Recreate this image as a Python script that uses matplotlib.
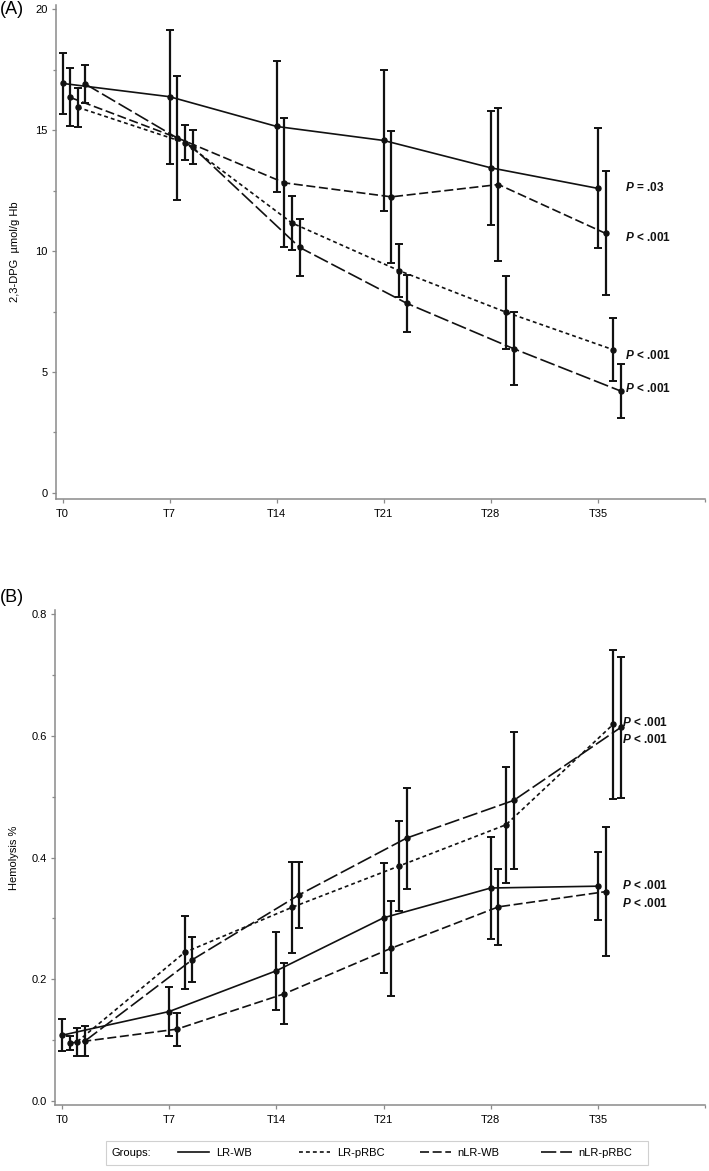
import matplotlib
matplotlib.use("Agg")
import matplotlib.pyplot as plt
from matplotlib.lines import Line2D
from matplotlib.patches import Rectangle
from matplotlib.ticker import FixedLocator, MultipleLocator

plt.rcParams['font.family'] = ['Liberation Sans', 'DejaVu Sans']
plt.rcParams['mathtext.fontset'] = 'custom'
plt.rcParams['mathtext.it'] = 'Liberation Sans:italic:bold'
plt.rcParams['mathtext.rm'] = 'Liberation Sans:bold'
plt.rcParams['lines.scale_dashes'] = False

# storage time points (days) and tick labels
days = [0, 7, 14, 21, 28, 35]
day_labels = ['T0', 'T7', 'T14', 'T21', 'T28', 'T35']
groups = ['LR-WB', 'LR-pRBC', 'nLR-WB', 'nLR-pRBC']

# (A) 2,3-DPG, mean and SD
dpg_lr_wb = [16.93, 16.38, 15.15, 14.57, 13.44, 12.59]
dpg_lr_wb_sd = [1.26, 2.77, 2.70, 2.90, 2.35, 2.48]
dpg_lr_prbc = [15.94, 14.48, 11.16, 9.19, 7.47, 5.92]
dpg_lr_prbc_sd = [0.81, 0.72, 1.10, 1.10, 1.50, 1.30]
dpg_nlr_wb = [16.35, 14.68, 12.82, 12.24, 12.75, 10.73]
dpg_nlr_wb_sd = [1.20, 2.55, 2.67, 2.73, 3.18, 2.56]
dpg_nlr_prbc = [16.90, 14.30, 10.15, 7.84, 5.96, 4.21]
dpg_nlr_prbc_sd = [0.80, 0.70, 1.18, 1.17, 1.50, 1.13]
dpg_p_text = ['$P$ = .03', '$P$ < .001', '$P$ < .001', '$P$ < .001']
dpg_p_y = [12.64, 10.58, 5.70, 4.30]

# (B) hemolysis %, mean and SD
hem_lr_wb = [0.108, 0.147, 0.214, 0.301, 0.350, 0.353]
hem_lr_wb_sd = [0.026, 0.041, 0.064, 0.090, 0.084, 0.056]
hem_lr_prbc = [0.0975, 0.244, 0.318, 0.386, 0.454, 0.619]
hem_lr_prbc_sd = [0.023, 0.060, 0.075, 0.074, 0.095, 0.122]
hem_nlr_wb = [0.095, 0.118, 0.176, 0.251, 0.319, 0.344]
hem_nlr_wb_sd = [0.011, 0.027, 0.050, 0.078, 0.063, 0.106]
hem_nlr_prbc = [0.0986, 0.232, 0.339, 0.432, 0.494, 0.614]
hem_nlr_prbc_sd = [0.025, 0.037, 0.054, 0.083, 0.113, 0.116]
hem_p_text = ['$P$ < .001', '$P$ < .001', '$P$ < .001', '$P$ < .001']
hem_p_y = [0.622, 0.5945, 0.3534, 0.325]

# styles: small x shift per group so the bars do not overlap
shift = {'LR-WB': 0.0, 'nLR-WB': 0.5, 'LR-pRBC': 1.0, 'nLR-pRBC': 1.5}
dash = {'LR-WB': (None, None), 'LR-pRBC': (2.8, 2.2),
        'nLR-WB': (6.5, 2.6), 'nLR-pRBC': (11.0, 2.8)}
ink = '#111111'
axis_grey = '#8a8a8a'
fs = 8

fig = plt.figure(figsize=(7.09, 11.71), dpi=100)
ax_a = fig.add_axes([0.0783, 0.5739, 0.916, 0.4218])
ax_b = fig.add_axes([0.0776, 0.0564, 0.9168, 0.4227])


def draw_panel(ax, series, p_text, p_y, p_x):
    for name, vals, sd in series:
        xs = [d + shift[name] for d in days]
        ls = '-' if name == 'LR-WB' else (0, dash[name])
        ax.plot(xs, vals, color=ink, lw=1.2, linestyle=ls, zorder=2)
        ax.errorbar(xs, vals, yerr=sd, fmt='o', color=ink, ms=3.6,
                    elinewidth=1.6, capsize=2.9, capthick=1.4, zorder=3)
    for t, y in zip(p_text, p_y):
        ax.text(p_x, y, t, fontsize=8.5, fontweight='bold', va='center',
                ha='left', color=ink)
    ax.set_xlim(-0.46, 42.0)
    ax.set_xticks(days)
    ax.set_xticklabels(day_labels)
    ax.xaxis.set_minor_locator(FixedLocator([42.0]))
    for s in ['top', 'right']:
        ax.spines[s].set_visible(False)
    for s in ['left', 'bottom']:
        ax.spines[s].set_color(axis_grey)
        ax.spines[s].set_linewidth(1.1)
    ax.tick_params(which='both', colors=axis_grey, labelcolor='black',
                   labelsize=fs, width=0.9)
    ax.tick_params(axis='x', which='major', length=3.2, pad=4.0)
    ax.tick_params(axis='y', which='major', length=2.6, pad=3.2)
    ax.tick_params(which='minor', length=2.0)
    ax.set_facecolor('white')


draw_panel(ax_a,
           [('LR-WB', dpg_lr_wb, dpg_lr_wb_sd),
            ('LR-pRBC', dpg_lr_prbc, dpg_lr_prbc_sd),
            ('nLR-WB', dpg_nlr_wb, dpg_nlr_wb_sd),
            ('nLR-pRBC', dpg_nlr_prbc, dpg_nlr_prbc_sd)],
           dpg_p_text, dpg_p_y, 36.75)
ax_a.set_ylim(-0.25, 20.17)
ax_a.set_yticks([0, 5, 10, 15, 20])
ax_a.yaxis.set_minor_locator(MultipleLocator(2.5))
ax_a.set_ylabel('2,3-DPG  µmol/g Hb', fontsize=fs, labelpad=11)

draw_panel(ax_b,
           [('LR-WB', hem_lr_wb, hem_lr_wb_sd),
            ('LR-pRBC', hem_lr_prbc, hem_lr_prbc_sd),
            ('nLR-WB', hem_nlr_wb, hem_nlr_wb_sd),
            ('nLR-pRBC', hem_nlr_prbc, hem_nlr_prbc_sd)],
           hem_p_text, hem_p_y, 36.55)
ax_b.set_ylim(-0.0066, 0.807)
ax_b.set_yticks([0.0, 0.2, 0.4, 0.6, 0.8])
ax_b.set_yticklabels(['0.0', '0.2', '0.4', '0.6', '0.8'])
ax_b.yaxis.set_minor_locator(MultipleLocator(0.1))
ax_b.set_ylabel('Hemolysis %', fontsize=fs, labelpad=9)

fig.text(0.0, 1 - 10 / 1171, '(A)', fontsize=13, va='center', ha='left')
fig.text(0.0, 1 - 597 / 1171, '(B)', fontsize=13, va='center', ha='left')

# legend box along the bottom
fig.patches.append(Rectangle((106.5 / 709, 1 - 1165 / 1171), (648 - 106.5) / 709,
                             24.5 / 1171, transform=fig.transFigure,
                             facecolor='white', edgecolor='#d0d0d0', lw=0.8))
leg_y = 1 - 1153 / 1171
fig.text(112 / 709, leg_y, 'Groups:', fontsize=fs, va='center', ha='left')
leg_x = [178, 299, 420, 541]
for name, x in zip(groups, leg_x):
    ls = '-' if name == 'LR-WB' else (0, dash[name])
    h = Line2D([], [], color=ink, lw=1.2, linestyle=ls)
    fig.legend(handles=[h], labels=[name], loc='center left',
               bbox_to_anchor=(x / 709, leg_y), frameon=False, fontsize=fs,
               handlelength=2.8, handletextpad=0.6, borderpad=0,
               borderaxespad=0)

fig.savefig('out.png', dpi=100, facecolor='white')
